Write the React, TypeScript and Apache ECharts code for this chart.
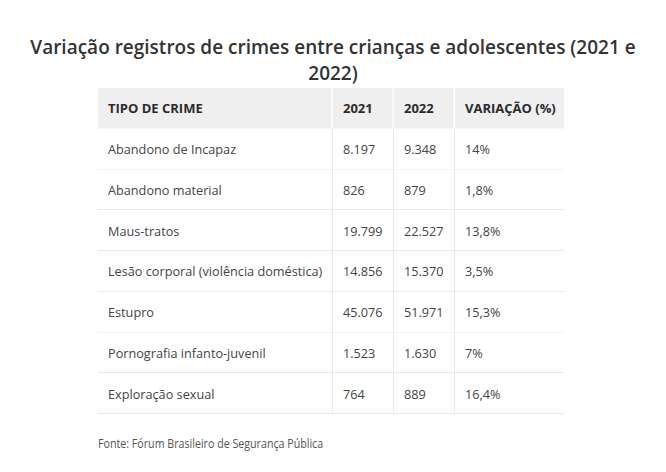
import React, { useEffect, useRef } from "react";
import * as echarts from "echarts";

const titleText = "Variação registros de crimes entre crianças e adolescentes (2021 e\n2022)";
const headers = ["TIPO DE CRIME", "2021", "2022", "VARIAÇÃO (%)"];
const crimes = [
  "Abandono de Incapaz",
  "Abandono material",
  "Maus-tratos",
  "Lesão corporal (violência doméstica)",
  "Estupro",
  "Pornografia infanto-juvenil",
  "Exploração sexual",
];
const registros2021 = [8197, 826, 19799, 14856, 45076, 1523, 764];
const registros2022 = [9348, 879, 22527, 15370, 51971, 1630, 889];
const variacao = [14, 1.8, 13.8, 3.5, 15.3, 7, 16.4];
const sourceText = "Fonte: Fórum Brasileiro de Segurança Pública";

// column boundaries (table width units)
const colEdges = [0, 235, 296, 357, 466];

const fmtInt = (n: number) => String(n).replace(/\B(?=(\d{3})+(?!\d))/g, ".");
const fmtPct = (n: number) => String(n).replace(".", ",") + "%";

const FONT = "'Open Sans', 'Noto Sans', sans-serif";

export default function App() {
  const ref = useRef<HTMLDivElement>(null);
  useEffect(() => {
    if (!ref.current) return;
    const chart = echarts.init(ref.current, undefined, { renderer: "svg" });

    const rowLabels = ["header", ...crimes];
    const cellTexts: string[][] = [headers];
    crimes.forEach((c, i) => {
      cellTexts.push([c, fmtInt(registros2021[i]), fmtInt(registros2022[i]), fmtPct(variacao[i])]);
    });
    const data: number[][] = [];
    const texts: string[] = [];
    cellTexts.forEach((row, r) => {
      row.forEach((t, c) => {
        data.push([colEdges[c], r, colEdges[c + 1], c]);
        texts.push(t);
      });
    });

    chart.setOption({
      animation: false,
      backgroundColor: "#ffffff",
      graphic: [
        {
          type: "text",
          x: 333,
          y: 33,
          scaleX: 0.95,
          style: {
            text: titleText,
            font: `600 20px ${FONT}`,
            fill: "#333333",
            align: "center",
            verticalAlign: "top",
            lineHeight: 26,
          },
        },
        {
          type: "text",
          x: 98,
          y: 443,
          scaleX: 0.89,
          style: {
            text: sourceText,
            font: `400 12px ${FONT}`,
            fill: "#555555",
            align: "left",
            verticalAlign: "middle",
          },
        },
      ],
      grid: { left: 98, top: 88, width: 466, height: 326, containLabel: false },
      xAxis: { type: "value", min: 0, max: 466, show: false },
      yAxis: { type: "category", data: rowLabels, inverse: true, show: false },
      series: [
        {
          type: "custom",
          silent: true,
          data,
          encode: { x: [0, 2], y: 1 },
          renderItem: (params: any, api: any) => {
            const r = api.value(1);
            const c = api.value(3);
            const p0 = api.coord([api.value(0), r]);
            const p1 = api.coord([api.value(2), r]);
            const h = api.size([0, 1])[1];
            const isHeader = r === 0;
            const x0 = p0[0];
            const x1 = p1[0];
            const yc = p0[1];
            const yTop = yc - h / 2;
            const yBot = Math.round(yc + h / 2) - 0.5;
            const children: any[] = [
              {
                type: "rect",
                shape: { x: x0, y: yTop, width: x1 - x0, height: h },
                style: { fill: isHeader ? "#efefef" : "#ffffff" },
              },
            ];
            if (!isHeader) {
              children.push({
                type: "line",
                shape: { x1: x0, y1: yBot, x2: x1, y2: yBot },
                style: { stroke: "#e9e9e9", lineWidth: 1 },
              });
            }
            if (c < 3) {
              const xr = Math.round(x1) - 0.5;
              children.push({
                type: "line",
                shape: { x1: xr, y1: yTop, x2: xr, y2: yTop + h },
                style: { stroke: isHeader ? "#ffffff" : "#e9e9e9", lineWidth: isHeader ? 2 : 1 },
              });
            }
            children.push({
              type: "text",
              style: {
                x: x0 + 10,
                y: yc,
                text: texts[params.dataIndex],
                verticalAlign: "middle",
                align: "left",
                font: isHeader ? `700 13px ${FONT}` : `400 12.7px ${FONT}`,
                fill: isHeader ? "#2b2b2b" : "#444444",
              },
            });
            return { type: "group", children };
          },
        },
      ],
    });
    return () => chart.dispose();
  }, []);
  return (
    <div
      ref={ref}
      style={{ position: "fixed", left: 0, top: 0, width: 666, height: 472 }}
    />
  );
}
